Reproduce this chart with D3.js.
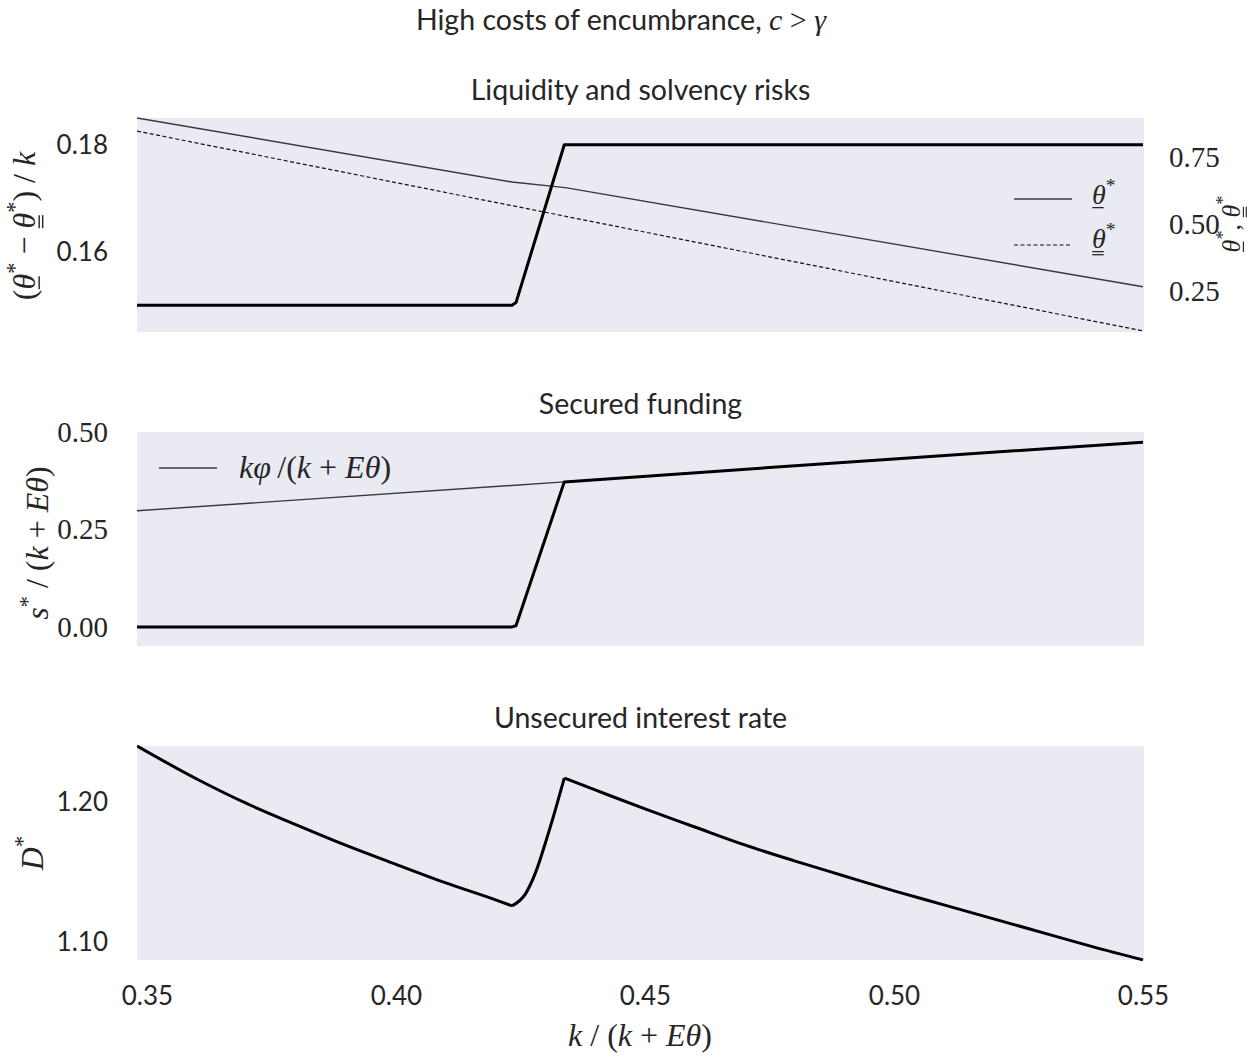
<!DOCTYPE html>
<html>
<head>
<meta charset="utf-8">
<script src="https://cdn.jsdelivr.net/npm/d3@7"></script>
<style>
  body { margin: 0; background: #fff; }
  text { fill: #262626; }
</style>
</head>
<body>
<svg id="chart" width="1260" height="1057"></svg>
<script>
// ---- data ----
// x axis: k/(k+E theta)
var xTicks = [0.35, 0.40, 0.45, 0.50, 0.55];

// top panel, left axis: (theta_ - theta=)/k
var gapX = [0.348, 0.4233, 0.4241, 0.4338, 0.55];
var gapY = [0.1500, 0.1500, 0.1505, 0.1800, 0.1800];
var gapTicks = [0.16, 0.18];

// top panel, right axis: theta_ (solid) and theta= (dashed)
var thLowX = [0.348, 0.4233, 0.4340, 0.55];
var thLowY = [0.896, 0.657, 0.636, 0.266];
var thHighX = [0.348, 0.45, 0.55];
var thHighY = [0.847, 0.470, 0.101];
var thTicks = [0.25, 0.50, 0.75];

// middle panel: s*/(k+E theta) and k phi/(k+E theta)
var sX = [0.348, 0.4233, 0.4241, 0.4338, 0.50, 0.55];
var sY = [0.000, 0.000, 0.003, 0.372, 0.431, 0.474];
var capX = [0.348, 0.4338, 0.50, 0.55];
var capY = [0.298, 0.372, 0.431, 0.474];
var sTicks = [0.00, 0.25, 0.50];

// bottom panel: D*
var dX = [0.348, 0.36, 0.37, 0.38, 0.39, 0.40, 0.41, 0.42, 0.4233,
          0.426, 0.428, 0.430, 0.432, 0.4338,
          0.44, 0.45, 0.46, 0.47, 0.48, 0.49, 0.50, 0.51, 0.52, 0.53, 0.54, 0.55];
var dY = [1.2400, 1.2164, 1.1989, 1.1836, 1.1689, 1.1554, 1.1421, 1.1300, 1.1257,
          1.1343, 1.1493, 1.1707, 1.1943, 1.2171,
          1.2086, 1.1950, 1.1821, 1.1693, 1.1579, 1.1471, 1.1364, 1.1264, 1.1164, 1.1064, 1.0964, 1.0871];
var dTicks = [1.10, 1.20];

// ---- layout ----
var sans = "Lato, 'Open Sans', sans-serif";
var serif = "'Liberation Serif', 'DejaVu Serif', serif";
var bg = "#EAEAF2";
var left = 137, right = 1144;
var tops = [118, 432, 746], ph = 214;
var mathFs = 32;

var svg = d3.select("#chart");

var x = d3.scaleLinear().domain([0.348, 0.5502]).range([left, right]);

function panel(i, title) {
  var y0 = tops[i];
  svg.append("rect").attr("x", left).attr("y", y0)
    .attr("width", right - left).attr("height", ph).attr("fill", bg);
  svg.append("clipPath").attr("id", "clip" + i)
    .append("rect").attr("x", left).attr("y", y0 - 1)
    .attr("width", right - left).attr("height", ph + 2);
  svg.append("text").attr("x", (left + right) / 2).attr("y", y0 - 18)
    .attr("text-anchor", "middle")
    .style("font-family", sans).style("font-size", "28.5px")
    .text(title);
  return svg.append("g").attr("clip-path", "url(#clip" + i + ")");
}

function drawLine(g, xs, ys, yScale, color, width, dash, curve) {
  var line = d3.line().curve(curve || d3.curveLinear)
    .x(function(d) { return x(d[0]); }).y(function(d) { return yScale(d[1]); });
  g.append("path").datum(d3.zip(xs, ys))
    .attr("d", line).attr("fill", "none")
    .attr("stroke", color).attr("stroke-width", width)
    .attr("stroke-linejoin", "round")
    .attr("stroke-dasharray", dash || null);
}

function styleAxis(g, family, size) {
  g.select(".domain").remove();
  g.selectAll("text").style("font-family", family).style("font-size", size + "px").attr("fill", "#262626");
}

// math label made of tspans; u = number of underlines under that part
function mathText(g, px, py, parts, fs, anchor) {
  var t = g.append("text").attr("x", px).attr("y", py)
    .attr("text-anchor", anchor || "middle").style("font-size", fs + "px");
  var idx = 0, cur = 0, marks = [];
  parts.forEach(function(p) {
    var size = p.sup ? fs * 0.7 : fs;
    var target = p.sup ? -0.42 * fs : 0;
    var ts = t.append("tspan").text(p.t)
      .style("font-family", p.sans ? sans : serif)
      .style("font-style", p.it ? "italic" : "normal")
      .style("font-size", (p.size || size) + "px")
      .attr("dy", target - cur);
    cur = target;
    if (p.u) marks.push({ i: idx, n: p.u });
    idx += p.t.length;
  });
  var node = t.node();
  marks.forEach(function(m) {
    var ext = node.getExtentOfChar(m.i);
    var base = node.getStartPositionOfChar(m.i).y;
    for (var k = 0; k < m.n; k++) {
      var yy = base + fs * (0.13 + 0.11 * k);
      g.append("line")
        .attr("x1", ext.x + ext.width * 0.02).attr("x2", ext.x + ext.width * 0.85)
        .attr("y1", yy).attr("y2", yy)
        .attr("stroke", "#262626").attr("stroke-width", fs * 0.045);
    }
  });
  return t;
}

// ---- suptitle ----
mathText(svg, 621, 30, [
  { t: "High costs of encumbrance, ", sans: true, size: 28.5 },
  { t: "c", it: true }, { t: " > " }, { t: "γ", it: true }
], 30, "middle");

// ---- top panel ----
var g1 = panel(0, "Liquidity and solvency risks");
var yGap = d3.scaleLinear().domain([0.145, 0.185]).range([tops[0] + ph, tops[0]]);
var yTh = d3.scaleLinear().domain([0.097, 0.896]).range([tops[0] + ph, tops[0]]);

drawLine(g1, thLowX, thLowY, yTh, "#3a3a3a", 1.4);
drawLine(g1, thHighX, thHighY, yTh, "#111", 1.2, "4,2.5");
drawLine(g1, gapX, gapY, yGap, "#000", 3);

svg.append("g").attr("transform", "translate(" + left + ",0)")
  .call(d3.axisLeft(yGap).tickValues(gapTicks).tickFormat(d3.format(".2f")).tickSize(0).tickPadding(29))
  .call(styleAxis, sans, 26);
svg.append("g").attr("transform", "translate(" + right + ",0)")
  .call(d3.axisRight(yTh).tickValues(thTicks).tickFormat(d3.format(".2f")).tickSize(0).tickPadding(25))
  .call(styleAxis, serif, 29);

// legend
var lg = svg.append("g");
lg.append("line").attr("x1", 1014).attr("x2", 1072).attr("y1", 199).attr("y2", 199)
  .attr("stroke", "#3a3a3a").attr("stroke-width", 1.4);
lg.append("line").attr("x1", 1014).attr("x2", 1072).attr("y1", 245).attr("y2", 245)
  .attr("stroke", "#111").attr("stroke-width", 1.2).attr("stroke-dasharray", "4,2.5");
mathText(lg, 1092, 204, [{ t: "θ", it: true, u: 1 }, { t: "*", sup: true }], 28, "start");
mathText(lg, 1092, 248, [{ t: "θ", it: true, u: 2 }, { t: "*", sup: true }], 28, "start");

// y labels
var yl1 = svg.append("g").attr("transform", "translate(35,226) rotate(-90)");
mathText(yl1, 0, 0, [
  { t: "(" }, { t: "θ", it: true, u: 1 }, { t: "*", sup: true },
  { t: " − " }, { t: "θ", it: true, u: 2 }, { t: "*", sup: true },
  { t: ") / " }, { t: "k", it: true }
], mathFs, "middle");
var yr1 = svg.append("g").attr("transform", "translate(1240,224) rotate(-90)");
mathText(yr1, 0, 0, [
  { t: "θ", it: true, u: 1 }, { t: "*", sup: true }, { t: ", " },
  { t: "θ", it: true, u: 2 }, { t: "*", sup: true }
], 26, "middle");

// ---- middle panel ----
var g2 = panel(1, "Secured funding");
var yS = d3.scaleLinear().domain([-0.049, 0.5]).range([tops[1] + ph, tops[1]]);
drawLine(g2, capX, capY, yS, "#3a3a3a", 1.4);
drawLine(g2, sX, sY, yS, "#000", 3);
svg.append("g").attr("transform", "translate(" + left + ",0)")
  .call(d3.axisLeft(yS).tickValues(sTicks).tickFormat(d3.format(".2f")).tickSize(0).tickPadding(29))
  .call(styleAxis, serif, 29);

var lg2 = svg.append("g");
lg2.append("line").attr("x1", 159).attr("x2", 217).attr("y1", 468).attr("y2", 468)
  .attr("stroke", "#3a3a3a").attr("stroke-width", 1.4);
mathText(lg2, 239, 478, [
  { t: "kφ", it: true }, { t: "\u2009/(" }, { t: "k", it: true }, { t: " + " },
  { t: "Eθ", it: true }, { t: ")" }
], mathFs, "start");

var yl2 = svg.append("g").attr("transform", "translate(48,543) rotate(-90)");
mathText(yl2, 0, 0, [
  { t: "s", it: true }, { t: "*", sup: true }, { t: " / (" }, { t: "k", it: true },
  { t: " + " }, { t: "Eθ", it: true }, { t: ")" }
], mathFs, "middle");

// ---- bottom panel ----
var g3 = panel(2, "Unsecured interest rate");
var yD = d3.scaleLinear().domain([1.087, 1.24]).range([tops[2] + ph, tops[2]]);
// split D* at its kinks (local extrema) so each monotone piece is smoothed alone
var cuts = [0];
for (var i = 1; i < dY.length - 1; i++) {
  if ((dY[i] - dY[i - 1]) * (dY[i + 1] - dY[i]) < 0) cuts.push(i);
}
cuts.push(dY.length - 1);
for (var j = 0; j < cuts.length - 1; j++) {
  drawLine(g3, dX.slice(cuts[j], cuts[j + 1] + 1), dY.slice(cuts[j], cuts[j + 1] + 1),
    yD, "#000", 3, null, d3.curveMonotoneX);
}
svg.append("g").attr("transform", "translate(" + left + ",0)")
  .call(d3.axisLeft(yD).tickValues(dTicks).tickFormat(d3.format(".2f")).tickSize(0).tickPadding(29))
  .call(styleAxis, sans, 26);

var yl3 = svg.append("g").attr("transform", "translate(43,853) rotate(-90)");
mathText(yl3, 0, 0, [{ t: "D", it: true }, { t: "*", sup: true }], mathFs, "middle");

// x axis
svg.append("g").attr("transform", "translate(0," + (tops[2] + ph) + ")")
  .call(d3.axisBottom(x).tickValues(xTicks).tickFormat(d3.format(".2f")).tickSize(0).tickPadding(27))
  .call(styleAxis, sans, 26);

mathText(svg, 640, 1046, [
  { t: "k", it: true }, { t: " / (" }, { t: "k", it: true }, { t: " + " },
  { t: "Eθ", it: true }, { t: ")" }
], mathFs, "middle");
</script>
</body>
</html>
